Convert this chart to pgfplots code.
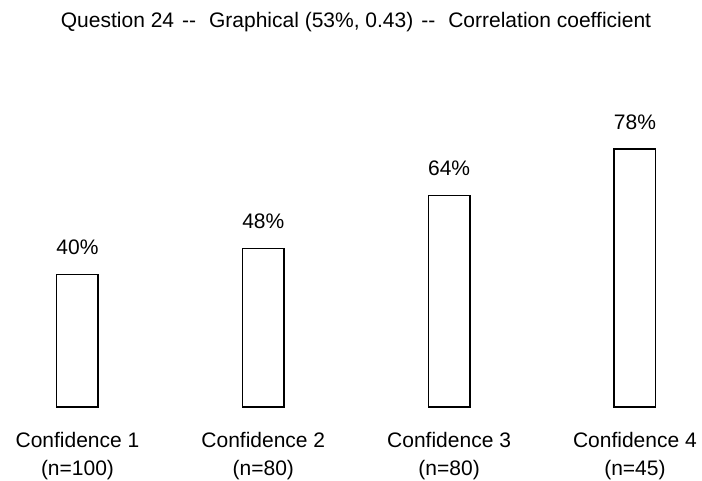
\documentclass[border=0pt]{standalone}
\usepackage{pgfplots}
\pgfplotsset{compat=1.18}
\usepackage{fontspec}
\setmainfont{Liberation Sans}

\begin{document}
\begin{tikzpicture}[font=\fontsize{21}{28}\selectfont]
  \begin{axis}[
      at={(0pt,74pt)}, anchor=south west,
      scale only axis,
      width=702pt, height=407pt,
      xmin=-0.417, xmax=3.361,
      ymin=0, ymax=123.1,
      clip=false,
      axis line style={draw=none},
      major tick length=0pt,
      ytick=\empty,
      xtick={0,1,2,3},
      xticklabels={{Confidence 1\\(n=100)},{Confidence 2\\(n=80)},
                   {Confidence 3\\(n=80)},{Confidence 4\\(n=45)}},
      x tick label style={align=center, anchor=north, inner sep=0pt, yshift=-24.7pt},
      ybar, bar width=41.5pt,
      nodes near coords,
      point meta=explicit symbolic,
      every node near coord/.append style={anchor=base, inner sep=0pt, yshift=20pt},
    ]
    \addplot[draw=black, fill=white, line width=1.5pt] coordinates {
      (0,40) [40\%]
      (1,48) [48\%]
      (2,64) [64\%]
      (3,78) [78\%]
    };
  \end{axis}
  \node[anchor=base, inner sep=0pt] at (356pt,453pt)
    {Question 24\hspace{8pt}-{}-\hspace{13pt}Graphical (53\%, 0.43)\hspace{8pt}-{}-\hspace{13pt}Correlation coefficient};
  \pgfresetboundingbox
  \path[use as bounding box] (0,0) rectangle (702pt,481pt);
\end{tikzpicture}
\end{document}
